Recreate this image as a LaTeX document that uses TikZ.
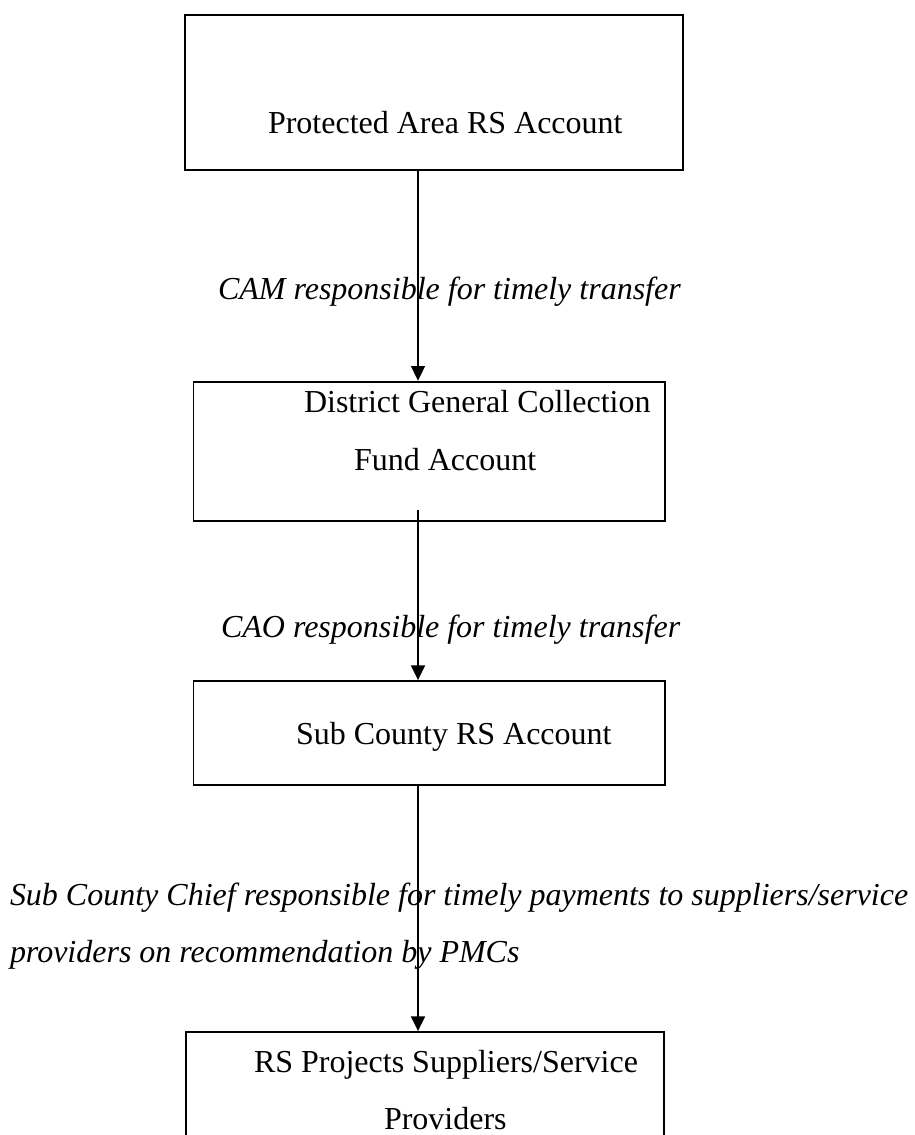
\documentclass[tikz,border=0pt]{standalone}
\usepackage{fontspec}
\setmainfont{Liberation Serif}
\usetikzlibrary{arrows.meta,calc}

\tikzset{
  acct/.style={draw=black, line width=1.4pt, inner sep=0pt, fill=none},
  txt/.style={anchor=base west, inner sep=0pt, outer sep=0pt,
              font=\fontsize{24pt}{43pt}\selectfont},
  note/.style={txt, font=\fontsize{24pt}{43pt}\selectfont\itshape},
  flow/.style={line width=1.2pt, -{Triangle[length=11pt,width=10.5pt]}}
}

\begin{document}
\begin{tikzpicture}[x=0.75pt,y=-0.75pt]
  % page frame (914 x 1135 px), clipped so the last box runs off the bottom
  \path[use as bounding box, clip] (0,0) rectangle (914,1135);
  \fill[white] (0,0) rectangle (914,1135);

  % account boxes
  \node[acct, minimum width=373.5pt, minimum height=116.25pt] (b1) at (434,92.5) {};
  \node[acct, minimum width=353.6pt, minimum height=104.55pt] (b2) at (429.25,451.3) {};
  \node[acct, minimum width=353.6pt, minimum height=78pt]     (b3) at (429.25,733) {};
  \node[acct, minimum width=358.5pt, minimum height=126pt]    (b4) at (425,1116) {};

  % box texts
  \node[txt] (t1)  at (268,133)    {Protected Area RS Account};
  \node[txt] (t2a) at (304,412.5)  {District General Collection};
  \node[txt] (t2b) at (354,470)    {Fund Account};
  \node[txt] (t3)  at (296,744)    {Sub County RS Account};
  \node[txt] (t4a) at (254,1072)   {RS Projects Suppliers/Service};
  \node[txt] (t4b) at (384,1129)   {Providers};

  % responsibility notes
  \node[note] (n1)  at (218,299) {CAM responsible for timely transfer};
  \node[note] (n2)  at (221,637) {CAO responsible for timely transfer};
  \node[note] (n3a) at (10,905)  {Sub County Chief responsible for timely payments to suppliers/service};
  \node[note] (n3b) at (10,962)  {providers on recommendation by PMCs};

  % transfer arrows, all on one vertical
  \coordinate (ax) at (418,0);
  \draw[flow] (b1.south -| ax) -- (b2.north -| ax);
  \draw[flow] ($(b2.south -| ax)+(0,-12)$) -- (b3.north -| ax);
  \draw[flow] (b3.south -| ax) -- (b4.north -| ax);
\end{tikzpicture}
\end{document}
